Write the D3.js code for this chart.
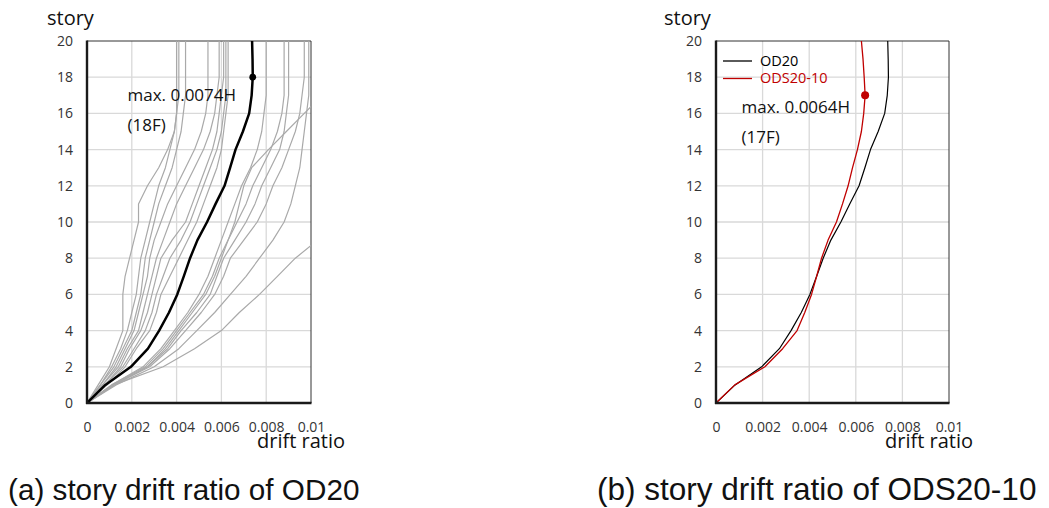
<!DOCTYPE html>
<html>
<head>
<meta charset="utf-8">
<script src="https://cdn.jsdelivr.net/npm/d3@7"></script>
<style>
  html, body { margin: 0; padding: 0; background: #fff; }
  svg { display: block; }
  .tick text { font-family: "Open Sans", "Noto Sans", sans-serif; font-size: 14px; fill: #333; }
</style>
</head>
<body>
<svg id="chart" width="1049" height="508"></svg>
<script>
// ---- data -------------------------------------------------------------
const stories = [0, 1, 2, 3, 4, 5, 6, 7, 8, 9, 10, 11, 12, 13, 14, 15, 16, 17, 18, 19, 20];
const storyTicks = [0, 2, 4, 6, 8, 10, 12, 14, 16, 18, 20];
const driftTicks = [0, 0.002, 0.004, 0.006, 0.008, 0.01];
const driftTickLabels = ["0", "0.002", "0.004", "0.006", "0.008", "0.01"];

// mean story drift ratio, OD20
const od20 = [0, 0.00082, 0.00196, 0.00272, 0.00322, 0.00366, 0.00403, 0.00432, 0.0046, 0.00493,
  0.00536, 0.00574, 0.00614, 0.00639, 0.00663, 0.00696, 0.00724, 0.00735, 0.0074, 0.00739, 0.00737];
// mean story drift ratio, ODS20-10
const ods2010 = [0, 0.00081, 0.0021, 0.00286, 0.00348, 0.00381, 0.0041, 0.00432, 0.00453, 0.00481,
  0.00517, 0.00543, 0.00567, 0.00586, 0.00607, 0.00624, 0.00634, 0.0064, 0.00636, 0.00631, 0.00624];

// OD20 response to each individual ground motion (story 0 upward)
const gm01 = [0, 0.0005, 0.0010, 0.0013, 0.0016, 0.0016, 0.0016, 0.0017, 0.0019, 0.0021, 0.0023, 0.0023, 0.0027, 0.0032, 0.0036, 0.0039, 0.0040, 0.0040, 0.0040, 0.0040, 0.0040];
const gm02 = [0, 0.0006, 0.0011, 0.0015, 0.0018, 0.0020, 0.0022, 0.0023, 0.0024, 0.0026, 0.0028, 0.0030, 0.0032, 0.0035, 0.0037, 0.0039, 0.0040, 0.0041, 0.0041, 0.0041, 0.0041];
const gm03 = [0, 0.0006, 0.0012, 0.0016, 0.0020, 0.0022, 0.0024, 0.0025, 0.0026, 0.0028, 0.0030, 0.0032, 0.0035, 0.0038, 0.0040, 0.0042, 0.0043, 0.0044, 0.0044, 0.0044, 0.0044];
const gm04 = [0, 0.0007, 0.0013, 0.0017, 0.0021, 0.0023, 0.0025, 0.0027, 0.0028, 0.0030, 0.0033, 0.0036, 0.0040, 0.0044, 0.0048, 0.0051, 0.0053, 0.0054, 0.0054, 0.0054, 0.0054];
const gm05 = [0, 0.0007, 0.0014, 0.0018, 0.0023, 0.0025, 0.0027, 0.0029, 0.0031, 0.0034, 0.0037, 0.0040, 0.0044, 0.0048, 0.0052, 0.0055, 0.0057, 0.0058, 0.0059, 0.0059, 0.0059];
const gm06 = [0, 0.0008, 0.0015, 0.0019, 0.0024, 0.0027, 0.0029, 0.0031, 0.0033, 0.0038, 0.0044, 0.0047, 0.0050, 0.0053, 0.0056, 0.0058, 0.0059, 0.0060, 0.0061, 0.0061, 0.0061];
const gm07 = [0, 0.0008, 0.0016, 0.0021, 0.0026, 0.0029, 0.0031, 0.0034, 0.0037, 0.0042, 0.0046, 0.0049, 0.0052, 0.0055, 0.0058, 0.0060, 0.0061, 0.0062, 0.0062, 0.0062, 0.0062];
const gm08 = [0, 0.0009, 0.0017, 0.0022, 0.0028, 0.0031, 0.0033, 0.0037, 0.0041, 0.0045, 0.0049, 0.0052, 0.0055, 0.0058, 0.0060, 0.0061, 0.0062, 0.0063, 0.0063, 0.0063, 0.0063];
const gm09 = [0, 0.0011, 0.0025, 0.0033, 0.0039, 0.0045, 0.0050, 0.0054, 0.0057, 0.0060, 0.0063, 0.0066, 0.0069, 0.0073, 0.0076, 0.0078, 0.0079, 0.0080, 0.0080, 0.0080, 0.0080];
const gm10 = [0, 0.0011, 0.0026, 0.0034, 0.0040, 0.0046, 0.0052, 0.0056, 0.0059, 0.0063, 0.0067, 0.0071, 0.0074, 0.0078, 0.0082, 0.0085, 0.0087, 0.0088, 0.0088, 0.0088, 0.0088];
const gm11 = [0, 0.0012, 0.0027, 0.0035, 0.0041, 0.0047, 0.0053, 0.0057, 0.0060, 0.0063, 0.0066, 0.0068, 0.0070, 0.00735, 0.0081, 0.0089, 0.0097, 0.0105];
const gm12 = [0, 0.0012, 0.0027, 0.0036, 0.0042, 0.0049, 0.0055, 0.0058, 0.0061, 0.0066, 0.0071, 0.0075, 0.0078, 0.0082, 0.0086, 0.0088, 0.0089, 0.0090, 0.0090, 0.0090, 0.0090];
const gm13 = [0, 0.0012, 0.0028, 0.0037, 0.0044, 0.0051, 0.0057, 0.0061, 0.0064, 0.0070, 0.0076, 0.0080, 0.0083, 0.0087, 0.0090, 0.0093, 0.0095, 0.0096, 0.0097, 0.0097, 0.0097];
const gm14 = [0, 0.0013, 0.0030, 0.0041, 0.0049, 0.0057, 0.0064, 0.0071, 0.0077, 0.0083, 0.0088, 0.0091, 0.0093, 0.0095, 0.0096, 0.0097, 0.0098, 0.0099, 0.0099, 0.0099, 0.0099];
const gm15 = [0, 0.0012, 0.0034, 0.0048, 0.0060, 0.0068, 0.0077, 0.0085, 0.0093, 0.0103];
const groundMotions = [gm01, gm02, gm03, gm04, gm05, gm06, gm07, gm08, gm09, gm10, gm11, gm12, gm13, gm14, gm15];

// ---- drawing ----------------------------------------------------------
const svg = d3.select("#chart");
const textFont = '"Open Sans", "Noto Sans", sans-serif';

function toPoints(values) {
  return values.map((v, i) => [v, stories[i]]);
}

function drawPanel(cfg) {
  const x = d3.scaleLinear().domain([0, 0.01]).range([cfg.left, cfg.right]);
  const y = d3.scaleLinear().domain([0, 20]).range([cfg.bottom, cfg.top]);
  const g = svg.append("g");

  const clipId = "clip-" + cfg.id;
  g.append("clipPath").attr("id", clipId)
    .append("rect")
    .attr("x", cfg.left).attr("y", cfg.top)
    .attr("width", cfg.right - cfg.left).attr("height", cfg.bottom - cfg.top);

  // gridlines
  g.append("g").selectAll("line.v").data(driftTicks.slice(1, -1)).join("line")
    .attr("x1", d => x(d)).attr("x2", d => x(d))
    .attr("y1", cfg.top).attr("y2", cfg.bottom)
    .attr("stroke", "#d9d9d9").attr("stroke-width", 1.3);
  g.append("g").selectAll("line.h").data(storyTicks.slice(1, -1)).join("line")
    .attr("x1", cfg.left).attr("x2", cfg.right)
    .attr("y1", d => y(d)).attr("y2", d => y(d))
    .attr("stroke", "#d9d9d9").attr("stroke-width", 1.3);

  // frame: thin top/right, heavy left/bottom axes
  g.append("line").attr("x1", cfg.left).attr("x2", cfg.right).attr("y1", cfg.top).attr("y2", cfg.top)
    .attr("stroke", "#333").attr("stroke-width", 1);
  g.append("line").attr("x1", cfg.right).attr("x2", cfg.right).attr("y1", cfg.top).attr("y2", cfg.bottom)
    .attr("stroke", "#333").attr("stroke-width", 1);

  const line = d3.line().x(d => x(d[0])).y(d => y(d[1]));
  const plot = g.append("g").attr("clip-path", `url(#${clipId})`);
  cfg.series.forEach(s => {
    plot.append("path")
      .attr("d", line(toPoints(s.values)))
      .attr("fill", "none")
      .attr("stroke", s.color)
      .attr("stroke-width", s.width)
      .attr("stroke-linejoin", "round");
  });

  g.append("line").attr("x1", cfg.left).attr("x2", cfg.left).attr("y1", cfg.top - 0.5).attr("y2", cfg.bottom + 1)
    .attr("stroke", "#1a1a1a").attr("stroke-width", 2.4);
  g.append("line").attr("x1", cfg.left - 1).attr("x2", cfg.right + 0.5).attr("y1", cfg.bottom).attr("y2", cfg.bottom)
    .attr("stroke", "#1a1a1a").attr("stroke-width", 2.4);

  // peak marker
  const m = cfg.marker;
  g.append("circle")
    .attr("cx", x(m.value)).attr("cy", y(m.story)).attr("r", m.r)
    .attr("fill", m.color);

  // axes
  const yAxis = d3.axisLeft(y).tickValues(storyTicks).tickSize(0).tickPadding(14);
  g.append("g").attr("transform", `translate(${cfg.left},0)`).call(yAxis)
    .call(a => a.select(".domain").remove());
  const xAxis = d3.axisBottom(x).tickValues(driftTicks).tickSize(0).tickPadding(19)
    .tickFormat((d, i) => driftTickLabels[i]);
  g.append("g").attr("transform", `translate(0,${cfg.bottom})`).call(xAxis)
    .call(a => a.select(".domain").remove());

  // axis titles
  g.append("text").attr("x", cfg.storyTitleX).attr("y", 25)
    .attr("font-family", textFont).attr("font-size", 20).attr("fill", "#111")
    .text("story");
  g.append("text").attr("x", cfg.driftTitleX).attr("y", 448)
    .attr("font-family", textFont).attr("font-size", 20).attr("fill", "#111")
    .text("drift ratio");

  // peak annotation
  g.append("text").attr("x", cfg.noteX).attr("y", cfg.noteY)
    .attr("font-family", textFont).attr("font-size", 17).attr("fill", "#111")
    .text(`max. ${m.value}H`);
  g.append("text").attr("x", cfg.noteX).attr("y", cfg.noteY + 30)
    .attr("font-family", textFont).attr("font-size", 17).attr("fill", "#111")
    .text(`(${m.story}F)`);

  // legend
  if (cfg.legend) {
    cfg.legend.forEach((item, i) => {
      const ly = 61 + i * 17.5;
      g.append("line").attr("x1", cfg.left + 7).attr("x2", cfg.left + 36)
        .attr("y1", ly).attr("y2", ly)
        .attr("stroke", item.color).attr("stroke-width", 1.3);
      g.append("text").attr("x", cfg.left + 44).attr("y", ly + 4.5)
        .attr("font-family", textFont).attr("font-size", 14.5).attr("fill", item.color)
        .text(item.label);
    });
  }

  // caption
  g.append("text").attr("x", cfg.captionX).attr("y", 500)
    .attr("font-family", '"Liberation Sans", Arial, sans-serif').attr("font-size", cfg.captionSize).attr("fill", "#111")
    .text(cfg.caption);
}

drawPanel({
  id: "a", left: 87, right: 311, top: 41, bottom: 403,
  series: [
    ...groundMotions.map(v => ({ values: v, color: "#a9a9a9", width: 1.2 })),
    { values: od20, color: "#000", width: 2.5 }
  ],
  marker: { value: 0.0074, story: 18, color: "#000", r: 3.4 },
  noteX: 127.5, noteY: 101,
  storyTitleX: 47, driftTitleX: 257,
  caption: "(a) story drift ratio of OD20", captionX: 8, captionSize: 29.7
});

drawPanel({
  id: "b", left: 716, right: 949, top: 41, bottom: 403,
  series: [
    { values: od20, color: "#000", width: 1.2 },
    { values: ods2010, color: "#c00000", width: 1.3 }
  ],
  marker: { value: 0.0064, story: 17, color: "#c00000", r: 4 },
  noteX: 741.5, noteY: 113,
  storyTitleX: 664, driftTitleX: 885,
  legend: [{ label: "OD20", color: "#000" }, { label: "ODS20-10", color: "#c00000" }],
  caption: "(b) story drift ratio of ODS20-10", captionX: 597, captionSize: 31.5
});
</script>
</body>
</html>
